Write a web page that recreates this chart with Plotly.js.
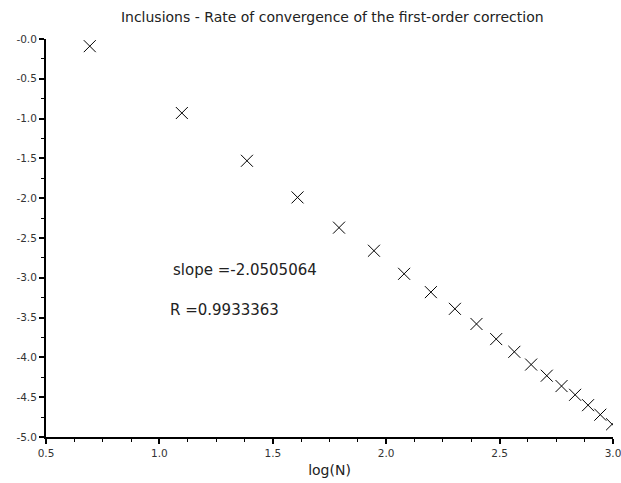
<!DOCTYPE html>
<html>
<head>
<meta charset="utf-8">
<script src="https://cdn.plot.ly/plotly-3.0.1.min.js"></script>
<style>html,body{margin:0;padding:0;background:#fff}#chart{width:621px;height:483px}</style>
</head>
<body>
<div id="chart"></div>
<script>
// log(N) for N = 2..20
var logN = [0.693, 1.099, 1.386, 1.609, 1.792, 1.946, 2.079, 2.197, 2.303, 2.398,
            2.485, 2.565, 2.639, 2.708, 2.773, 2.833, 2.890, 2.944, 2.996];
var logErr = [-0.09, -0.93, -1.53, -1.99, -2.37, -2.66, -2.95, -3.18, -3.39, -3.58,
              -3.77, -3.93, -4.09, -4.23, -4.36, -4.47, -4.60, -4.72, -4.84];
var yTickVals = [0, -0.5, -1, -1.5, -2, -2.5, -3, -3.5, -4, -4.5, -5];
var yTickText = ["-0.0", "-0.5", "-1.0", "-1.5", "-2.0", "-2.5", "-3.0", "-3.5", "-4.0", "-4.5", "-5.0"];
var xTickVals = [0.5, 1.0, 1.5, 2.0, 2.5, 3.0];
var xTickText = ["0.5", "1.0", "1.5", "2.0", "2.5", "3.0"];
var titleText = "Inclusions - Rate of convergence of the first-order correction";
var xTitle = "log(N)";
var slopeText = "slope =-2.0505064";
var rText = "R =0.9933363";

var font = "DejaVu Sans, Liberation Sans, sans-serif";

var trace = {
  x: logN, y: logErr, type: "scatter", mode: "markers",
  marker: {symbol: "x-thin-open", size: 12, color: "#000", line: {width: 1, color: "#000"}},
  showlegend: false, hoverinfo: "none"
};

var layout = {
  width: 621, height: 483,
  margin: {l: 46, r: 8, t: 39, b: 46},
  paper_bgcolor: "#fff", plot_bgcolor: "#fff",
  font: {family: font, color: "#000"},
  title: {text: titleText, font: {family: font, size: 14, color: "#222"}, x: 0.535, xanchor: "center", y: 0.964, yanchor: "middle"},
  xaxis: {
    range: [0.5, 3.0], showgrid: false, zeroline: false,
    showline: true, linecolor: "#000", linewidth: 2,
    tickmode: "array", tickvals: xTickVals, ticktext: xTickText,
    ticks: "outside", ticklen: 5, tickcolor: "#000", tickwidth: 2,
    ticklabeloverflow: "allow",
    tickfont: {family: font, size: 10.5, color: "#333"},
    minor: {dtick: 0.125, ticklen: 3, tickcolor: "#000", tickwidth: 1, ticks: "outside", showgrid: false},
    title: {text: xTitle, font: {family: font, size: 14, color: "#222"}, standoff: 8}
  },
  yaxis: {
    range: [-5.0, 0.0], showgrid: false, zeroline: false,
    showline: true, linecolor: "#000", linewidth: 2,
    tickmode: "array", tickvals: yTickVals, ticktext: yTickText,
    ticks: "outside", ticklen: 5, tickcolor: "#000", tickwidth: 2,
    tickfont: {family: font, size: 10.5, color: "#333"},
    minor: {dtick: 0.25, ticklen: 3, tickcolor: "#000", tickwidth: 1, ticks: "outside", showgrid: false}
  },
  annotations: [
    {x: 1.049, y: -2.90, xref: "x", yref: "y", text: slopeText, showarrow: false,
     xanchor: "left", yanchor: "middle", font: {family: font, size: 15, color: "#222"}},
    {x: 1.036, y: -3.40, xref: "x", yref: "y", text: rText, showarrow: false,
     xanchor: "left", yanchor: "middle", font: {family: font, size: 15, color: "#222"}}
  ]
};

Plotly.newPlot("chart", [trace], layout, {displayModeBar: false, staticPlot: true});
</script>
</body>
</html>
